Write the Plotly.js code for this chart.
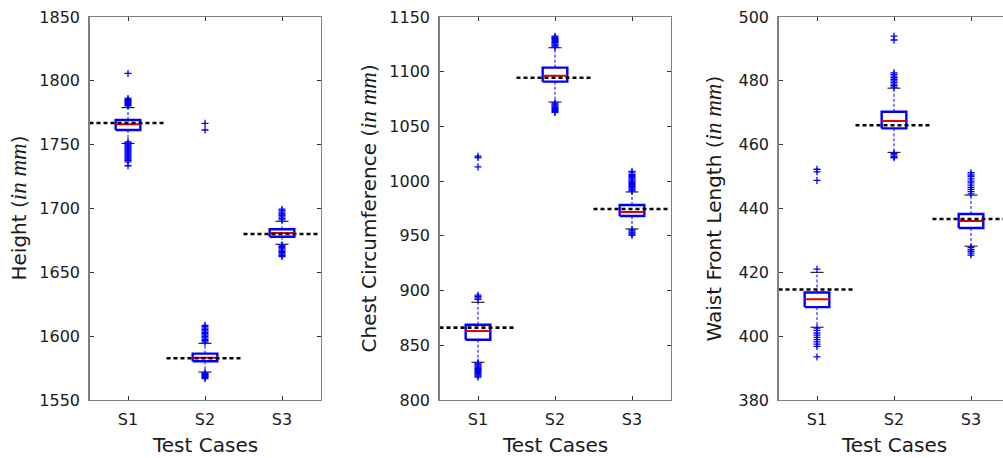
<!DOCTYPE html>
<html><head><meta charset="utf-8">
<script src="https://cdn.plot.ly/plotly-3.0.1.min.js"></script>
<style>html,body{margin:0;padding:0;overflow:hidden;background:#fff}</style>
</head><body><div id="chart" style="width:1020px;height:458px"></div>
<script>
const categories = ['S1', 'S2', 'S3'];

// Panel 1: Height (mm)
const heightQ1 = [1761.5, 1580.3, 1677.9];
const heightMedian = [1766.0, 1583.1, 1680.8];
const heightQ3 = [1769.3, 1586.3, 1683.7];
const heightWhiskLo = [1751.0, 1571.9, 1672.0];
const heightWhiskHi = [1779.0, 1594.4, 1690.0];
const heightRef = [1767.0, 1582.7, 1680.0];
const heightOutS1 = [1805.8, 1786.2, 1785.3, 1784.5, 1783.7, 1782.9, 1782.1, 1781.3, 1780.5,
  1752.2, 1751.4, 1750.6, 1749.8, 1749.0, 1748.2, 1747.4, 1746.6, 1745.8, 1745.0, 1744.2,
  1743.4, 1742.6, 1741.8, 1741.0, 1740.2, 1739.4, 1738.6, 1737.8, 1736.5, 1733.5];
const heightOutS2 = [1766.7, 1761.5, 1608.5, 1607.4, 1606.3, 1605.2, 1604.1, 1603.0, 1601.9,
  1600.8, 1599.7, 1598.6, 1597.5, 1596.4, 1595.3, 1571.3, 1570.6, 1569.9, 1569.2, 1568.5, 1567.7, 1566.8];
const heightOutS3 = [1699.5, 1698.3, 1697.1, 1695.9, 1694.7, 1693.5, 1692.3, 1691.1,
  1671.4, 1670.4, 1669.4, 1668.4, 1667.4, 1666.4, 1665.4, 1664.4, 1663.4, 1662.4];

// Panel 2: Chest Circumference (mm)
const chestQ1 = [855.1, 1090.9, 968.1];
const chestMedian = [863.1, 1096.4, 971.8];
const chestQ3 = [868.8, 1103.7, 978.2];
const chestWhiskLo = [834.5, 1072.3, 956.3];
const chestWhiskHi = [889.3, 1121.9, 990.1];
const chestRef = [866.1, 1094.5, 974.5];
const chestOutS1 = [1022.8, 1021.5, 1013.0, 895.8, 894.5, 893.3, 892.0,
  834.0, 833.0, 832.0, 831.0, 830.0, 829.0, 828.0, 827.0, 826.0, 825.0, 824.0, 823.0, 822.0, 821.0];
const chestOutS2 = [1132.5, 1131.5, 1130.5, 1129.5, 1128.5, 1127.5, 1126.5, 1125.5, 1124.5, 1123.5, 1122.5,
  1071.5, 1070.5, 1069.5, 1068.5, 1067.5, 1066.5, 1065.5, 1064.5, 1063.5, 1062.8];
const chestOutS3 = [1009.0, 1007.5, 1006.0, 1005.0, 1004.0, 1003.0, 1002.0, 1001.0, 1000.0, 999.0,
  998.0, 997.0, 996.0, 995.0, 994.0, 993.0, 992.0, 991.0,
  955.5, 954.5, 953.5, 952.5, 951.5, 950.5];

// Panel 3: Waist Front Length (mm)
const waistQ1 = [409.1, 465.1, 433.9];
const waistMedian = [411.6, 467.4, 436.1];
const waistQ3 = [413.7, 470.3, 438.3];
const waistWhiskLo = [402.8, 457.6, 428.2];
const waistWhiskHi = [420.0, 477.7, 444.2];
const waistRef = [414.6, 466.1, 436.7];
const waistOutS1 = [452.3, 451.5, 448.8, 421.0,
  402.5, 401.8, 401.0, 400.3, 399.6, 398.9, 398.2, 397.5, 396.8, 393.5];
const waistOutS2 = [494.0, 492.8, 482.5, 482.0, 481.5, 481.0, 480.5, 480.0, 479.5, 479.0, 478.5, 478.0,
  457.3, 456.8, 456.3, 455.9];
const waistOutS3 = [451.2, 450.5, 450.0, 449.3, 448.6, 448.0, 447.3, 446.6, 446.0, 445.3, 444.6,
  427.8, 427.2, 426.6, 426.0, 425.4];

const ITAL = '<span style="font-family:\'Liberation Serif\';font-style:italic;font-size:23px">in mm</span>';
const yTitles = ['Height (' + ITAL + ')', 'Chest Circumference (' + ITAL + ')', 'Waist Front Length (' + ITAL + ')'];
const xTitle = 'Test Cases';

// style constants
const BOX_HW = 0.16, CAP_HW = 0.085, REF_HW = 0.5;
const BLUE = '#0000ff';

function panel(n, q1, med, q3, lo, hi, ref, outs) {
  const xa = n === 1 ? 'x' : 'x' + n, ya = n === 1 ? 'y' : 'y' + n;
  const bx = [], by = [], mx = [], my = [], wx = [], wy = [], cx = [], cy = [], rx = [], ry = [], ox = [], oy = [];
  for (let i = 0; i < categories.length; i++) {
    const c = i + 1;
    bx.push(c - BOX_HW, c + BOX_HW, c + BOX_HW, c - BOX_HW, c - BOX_HW, null);
    by.push(q1[i], q1[i], q3[i], q3[i], q1[i], null);
    mx.push(c - BOX_HW, c + BOX_HW, null); my.push(med[i], med[i], null);
    wx.push(c, c, null, c, c, null); wy.push(q3[i], hi[i], null, q1[i], lo[i], null);
    cx.push(c - CAP_HW, c + CAP_HW, null, c - CAP_HW, c + CAP_HW, null);
    cy.push(hi[i], hi[i], null, lo[i], lo[i], null);
    rx.push(c - REF_HW, c + REF_HW, null); ry.push(ref[i], ref[i], null);
    outs[i].forEach(v => { ox.push(c); oy.push(v); });
  }
  const base = { xaxis: xa, yaxis: ya, mode: 'lines', hoverinfo: 'skip', showlegend: false };
  return [
    Object.assign({}, base, { x: wx, y: wy, line: { color: BLUE, width: 1, dash: '3px,2px' } }),
    Object.assign({}, base, { x: cx, y: cy, line: { color: '#000', width: 1 } }),
    Object.assign({}, base, { x: bx, y: by, line: { color: BLUE, width: 2.4 } }),
    Object.assign({}, base, { x: mx, y: my, line: { color: '#e60000', width: 2 } }),
    Object.assign({}, base, { x: ox, y: oy, mode: 'markers',
      marker: { symbol: 'cross-thin', size: 5, line: { color: BLUE, width: 1.3 }, color: BLUE } }),
    Object.assign({}, base, { x: rx, y: ry, line: { color: '#000', width: 2.6, dash: '4px,3px' } })
  ];
}

const data = [].concat(
  panel(1, heightQ1, heightMedian, heightQ3, heightWhiskLo, heightWhiskHi, heightRef, [heightOutS1, heightOutS2, heightOutS3]),
  panel(2, chestQ1, chestMedian, chestQ3, chestWhiskLo, chestWhiskHi, chestRef, [chestOutS1, chestOutS2, chestOutS3]),
  panel(3, waistQ1, waistMedian, waistQ3, waistWhiskLo, waistWhiskHi, waistRef, [waistOutS1, waistOutS2, waistOutS3])
);

const W = 1020, H = 458;
const FONT = 'DejaVu Sans';
const TXT = '#1a1a1a';
const yDom = [1 - 400 / H, 1 - 17 / H];
const xDoms = [[89.5, 320.5], [439.5, 670.5], [778.5, 1009.5]];
const yTitleX = [18, 368, 713];

function xax(d, anchor) {
  return {
    domain: [d[0] / W, d[1] / W], anchor: anchor, range: [0.5, 3.5],
    tickmode: 'array', tickvals: [1, 2, 3], ticktext: categories,
    ticks: 'inside', ticklen: 4, tickcolor: '#333', tickwidth: 1,
    showline: true, linecolor: '#808080', linewidth: 1.3, mirror: 'ticks',
    showgrid: false, zeroline: false, fixedrange: true, ticklabelstandoff: 4,
    tickfont: { family: FONT, size: 16, color: TXT }
  };
}
function yax(r, dt, anchor) {
  return {
    domain: yDom, anchor: anchor, range: r, dtick: dt, tick0: r[0],
    ticks: 'inside', ticklen: 4, tickcolor: '#333', tickwidth: 1,
    showline: true, linecolor: '#808080', linewidth: 1.3, mirror: 'ticks',
    showgrid: false, zeroline: false, fixedrange: true, ticklabelstandoff: 5,
    tickfont: { family: FONT, size: 16, color: TXT }
  };
}

const annotations = [];
for (let k = 0; k < 3; k++) {
  annotations.push({ xref: 'paper', yref: 'paper', x: (xDoms[k][0] + xDoms[k][1]) / 2 / W, y: 0,
    xanchor: 'center', yanchor: 'bottom', borderpad: 0, showarrow: false, text: xTitle,
    font: { family: FONT, size: 20, color: TXT } });
  annotations.push({ xref: 'paper', yref: 'paper', x: yTitleX[k] / W, y: (yDom[0] + yDom[1]) / 2,
    xanchor: 'center', yanchor: 'middle', showarrow: false, textangle: -90, text: yTitles[k],
    font: { family: FONT, size: 20, color: TXT } });
}

const layout = {
  width: W, height: H, margin: { l: 0, r: 0, t: 0, b: 0 },
  paper_bgcolor: '#fff', plot_bgcolor: '#fff', showlegend: false,
  xaxis: xax(xDoms[0], 'y'), yaxis: yax([1550, 1850], 50, 'x'),
  xaxis2: xax(xDoms[1], 'y2'), yaxis2: yax([800, 1150], 50, 'x2'),
  xaxis3: xax(xDoms[2], 'y3'), yaxis3: yax([380, 500], 20, 'x3'),
  annotations: annotations
};

Plotly.newPlot('chart', data, layout, { displayModeBar: false, staticPlot: true });
</script></body></html>
